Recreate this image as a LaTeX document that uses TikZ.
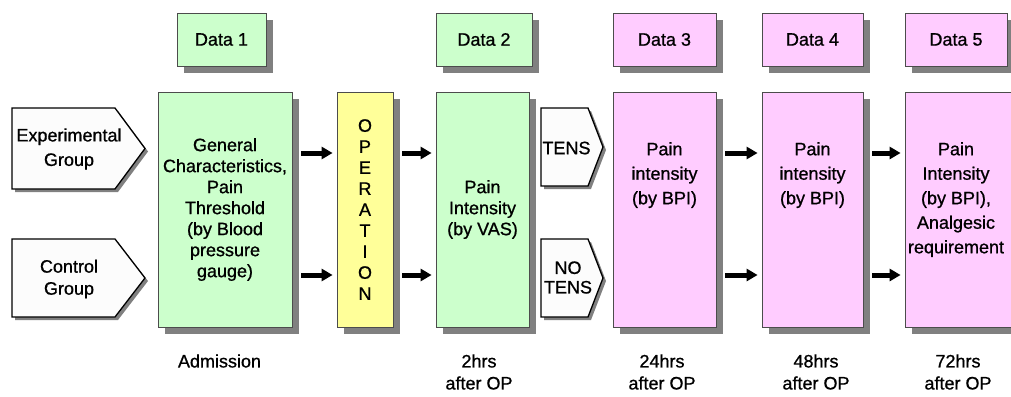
\documentclass[tikz,border=0pt]{standalone}
\usepackage{fontspec}
\setmainfont{Liberation Sans}[FakeBold=0.9]
\usepackage{tikz}
\usetikzlibrary{arrows.meta,shadows,calc}
\definecolor{mint}{HTML}{CCFFCC}
\definecolor{lemon}{HTML}{FFFF99}
\definecolor{lilac}{HTML}{FFCCFF}
\definecolor{paper}{HTML}{FCFCFC}

\begin{document}
\begin{tikzpicture}[x=1pt,y=-1pt,line join=miter,
  box/.style={draw=black!70,line width=0.8pt,inner sep=1pt,align=center,
    font=\fontsize{18}{21}\selectfont,
    drop shadow={shadow xshift=7pt,shadow yshift=-7pt,fill=black!50,opacity=1}},
  txt/.style={inner sep=0pt,align=center,font=\fontsize{18}{24.5}\selectfont},
  tag/.style={draw=black,line width=1.3pt,fill=paper,
    drop shadow={shadow xshift=3pt,shadow yshift=-3pt,fill=black!50,opacity=1}},
  lbl/.style={inner sep=0pt,align=center,font=\fontsize{18}{22}\selectfont},
  flow/.style={line width=5pt,-{Triangle[length=11pt,width=12pt]}}]
\useasboundingbox (0,0) rectangle (1011,396);
\clip (0,0) rectangle (1011,396);
% data boxes
\node[box,fill=mint,minimum width=89,minimum height=53] (d1) at (221.5,39.5) {Data 1};
\node[box,fill=mint,minimum width=96,minimum height=53] (d2) at (484,39.5) {Data 2};
\node[box,fill=lilac,minimum width=103,minimum height=53] (d3) at (664.5,39.5) {Data 3};
\node[box,fill=lilac,minimum width=101,minimum height=53] (d4) at (812.5,39.5) {Data 4};
\node[box,fill=lilac,minimum width=102,minimum height=53] (d5) at (956,39.5) {Data 5};
% groups
\draw[tag] (12,108) -- (115,108) -- (145,148.5) -- (115,189) -- (12,189) -- cycle;
\draw[tag] (12,239) -- (115,239) -- (145,278) -- (115,317) -- (12,317) -- cycle;
\draw[tag] (541,108) -- (588,108) -- (603,147) -- (588,186) -- (541,186) -- cycle;
\draw[tag] (541,239) -- (588,239) -- (603,278) -- (588,317) -- (541,317) -- cycle;
\node[txt] (expt) at (69,149) {Experimental\\Group};
\node[txt,font=\fontsize{18}{22}\selectfont] (ctlt) at (69,279) {Control\\Group};
\node[txt] (tens) at (566.5,148) {TENS};
\node[txt,font=\fontsize{18}{19.5}\selectfont] (notens) at (568,277.5) {NO\\TENS};
% main boxes
\node[box,fill=mint,minimum width=134,minimum height=235] (g1) at (225,209.5)
  {General\\Characteristics,\\Pain\\Threshold\\(by Blood\\pressure\\gauge)};
\node[box,fill=lemon,minimum width=56,minimum height=235] (op) at (365,209.5)
  {O\\P\\E\\R\\A\\T\\I\\O\\N};
\node[box,fill=mint,minimum width=93,minimum height=235] (g2) at (482.5,209.5)
  {Pain\\Intensity\\(by VAS)};
\node[box,fill=lilac,minimum width=103,minimum height=235] (p3) at (664.5,209.5) {};
\node[box,fill=lilac,minimum width=125,minimum height=235] (p5) at (967.5,209.5) {};
\node[box,fill=lilac,minimum width=101,minimum height=235] (p4) at (812.5,209.5) {};
\node[txt,anchor=north] (p3t) at (664.5,142) {Pain\\intensity\\(by BPI)};
\node[txt,anchor=north] (p4t) at (812.5,142) {Pain\\intensity\\(by BPI)};
\node[txt,anchor=north] (p5t) at (956,142) {Pain\\Intensity\\(by BPI),\\Analgesic\\requirement};
% arrows
\coordinate (up) at (0,153);
\coordinate (lo) at (0,275);
\foreach \a/\b in {g1/op,op/g2,p3/p4,p4/p5}
  \foreach \r in {up,lo}
    \draw[flow] ($(\a.east|-\r)+(9,0)$) -- ($(\b.west|-\r)+(-4,0)$);
% time labels
\node[lbl] (t1) at (219.5,361) {Admission};
\node[lbl] (t2) at (479,372) {2hrs\\after OP};
\node[lbl] (t3) at (662,372) {24hrs\\after OP};
\node[lbl] (t4) at (816,372) {48hrs\\after OP};
\node[lbl] (t5) at (958,372) {72hrs\\after OP};
\end{tikzpicture}
\end{document}
